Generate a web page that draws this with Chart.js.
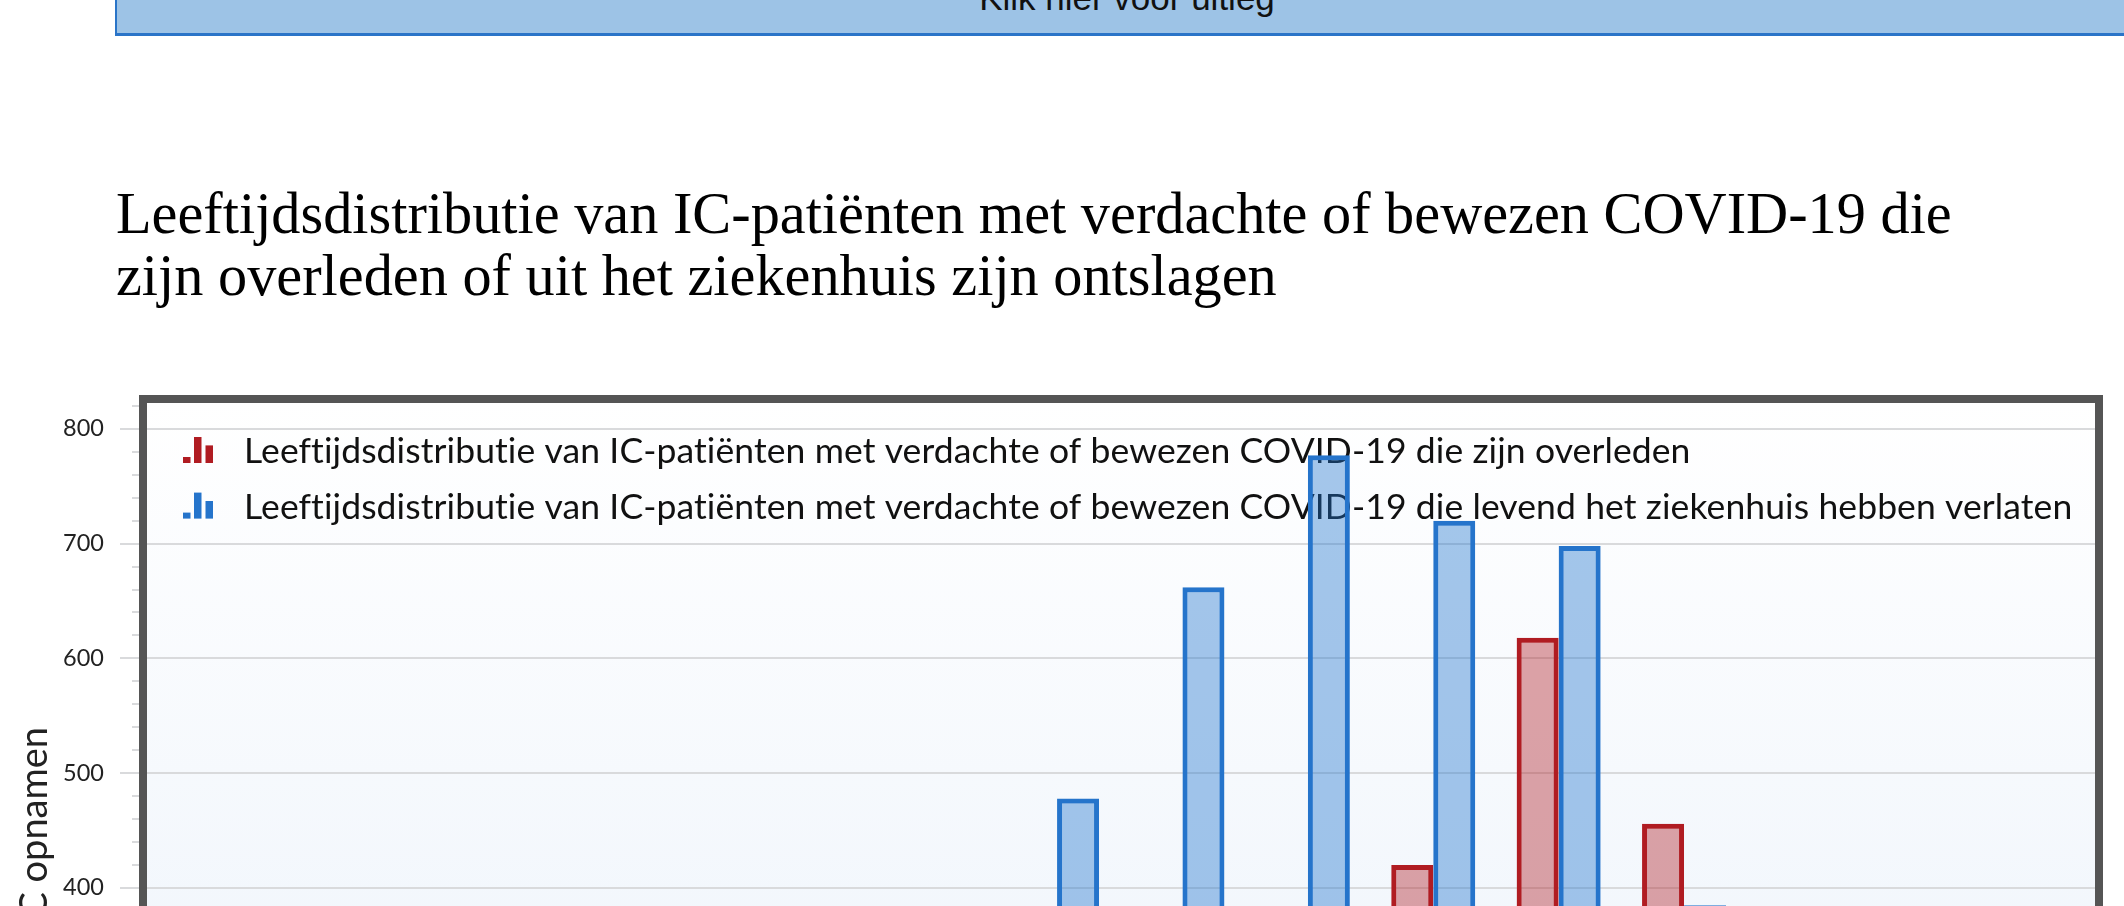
<!DOCTYPE html>
<html lang="nl">
<head>
<meta charset="utf-8">
<title>Leeftijdsdistributie IC-patiënten</title>
<script src="https://cdn.jsdelivr.net/npm/chart.js@4.4.1/dist/chart.umd.min.js"></script>
<style>
    html, body {
        margin: 0;
        padding: 0;
        width: 2124px;
        height: 906px;
        overflow: hidden;
        background: #fff;
    }
    .uitleg {
        position: absolute;
        left: 115px;
        top: -40px;
        width: 2020px;
        height: 55px;
        padding-top: 16px;
        background: #9dc3e6;
        border: 2px solid #2a74c8;
        border-bottom-width: 3px;
        font: 35px/40px 'Liberation Sans', Arial, sans-serif;
        color: #111;
        text-align: center;
    }
    h1 {
        position: absolute;
        left: 116px;
        top: 183px;
        margin: 0;
        font: 400 58.3px/62px 'Liberation Serif', 'Times New Roman', serif;
        color: #000;
        white-space: nowrap;
    }
    .chart-wrap {
        position: absolute;
        left: 0;
        top: 0;
        width: 2124px;
        height: 1427px;
    }
</style>
</head>
<body>
<div class="chart-wrap"><canvas id="leeftijdChart" width="2124" height="1427"></canvas></div>
<div class="uitleg">Klik hier voor uitleg</div>
<h1>Leeftijdsdistributie van IC-patiënten met verdachte of bewezen COVID-19 die<br>zijn overleden of uit het ziekenhuis zijn ontslagen</h1>

<script>
// Leeftijdsgroepen op de x-as (onderkant valt buiten beeld)
const ageGroups = ['<20', '20-24', '25-29', '30-34', '35-39', '40-44', '45-49', '50-54',
    '55-59', '60-64', '65-69', '70-74', '75-79', '80-84', '85-89', '>=90'];

const overleden = [3, 2, 3, 5, 8, 15, 40, 80, 140, 280, 420, 618, 456, 180, 25, 2];
const ontslagen = [40, 30, 50, 80, 120, 200, 330, 478, 662, 777, 720, 698, 385, 120, 15, 1];

const labelOverleden = 'Leeftijdsdistributie van IC-patiënten met verdachte of bewezen COVID-19 die zijn overleden';
const labelOntslagen = 'Leeftijdsdistributie van IC-patiënten met verdachte of bewezen COVID-19 die levend het ziekenhuis hebben verlaten';

// y-as: gelabelde ticks en stap van de kleine streepjes
const yTickLabels = [0, 100, 200, 300, 400, 500, 600, 700, 800];
const yMinorStep = 20;
const yAxisTitle = 'IC opnamen';

const gridColor = '#d9dadc';
const redLine = '#b01c22';
const blueLine = '#2574cb';

function minorTicks() {
    const ticks = [];
    for (let v = 0; v <= 820; v += yMinorStep) ticks.push({ value: v });
    return ticks;
}

// plot achtergrond, kader en as-titel
const plotFrame = {
    id: 'plotFrame',
    beforeDraw(chart) {
        const { ctx, chartArea: a } = chart;
        const grad = ctx.createLinearGradient(0, a.top, 0, a.bottom);
        grad.addColorStop(0, '#ffffff');
        grad.addColorStop(1, '#e8f0fa');
        ctx.save();
        ctx.fillStyle = grad;
        ctx.fillRect(a.left, a.top, a.right - a.left, a.bottom - a.top);
        ctx.restore();
    },
    afterDraw(chart) {
        const { ctx, chartArea: a } = chart;
        ctx.save();
        ctx.strokeStyle = '#555555';
        ctx.lineWidth = 8;
        ctx.strokeRect(a.left, a.top, a.right - a.left, a.bottom - a.top);

        ctx.translate(47, a.top + 328);
        ctx.rotate(-Math.PI / 2);
        ctx.font = '38px Lato, sans-serif';
        ctx.fillStyle = '#222';
        ctx.textAlign = 'right';
        ctx.textBaseline = 'alphabetic';
        ctx.fillText(yAxisTitle, 0, 0);
        ctx.restore();
    }
};

// legenda binnen het plotvlak, onder de staven
const legendInPlot = {
    id: 'legendInPlot',
    beforeDatasetsDraw(chart) {
        const { ctx, chartArea: a } = chart;
        ctx.save();
        ctx.font = '35.5px Lato, sans-serif';
        ctx.letterSpacing = '0.1px';   // ook: geen ti-ligatuur
        ctx.textBaseline = 'alphabetic';
        chart.data.datasets.forEach((ds, i) => {
            const base = a.top + 64 + i * 55.6;
            const x0 = a.left + 40;
            ctx.fillStyle = ds.borderColor;
            ctx.fillRect(x0, base - 6, 7.5, 6);
            ctx.fillRect(x0 + 11, base - 26, 7.5, 26);
            ctx.fillRect(x0 + 22.5, base - 17.6, 7.5, 17.6);
            ctx.fillStyle = '#111';
            ctx.fillText(ds.label, a.left + 101, base);
        });
        ctx.restore();
    }
};

function toPoints(values) {
    return values.map((v, i) => ({ x: i, y: v }));
}

Chart.defaults.font.family = "Lato, 'Noto Sans', sans-serif";

new Chart(document.getElementById('leeftijdChart'), {
    type: 'bar',
    data: {
        datasets: [
            {
                label: labelOverleden,
                data: toPoints(overleden),
                backgroundColor: 'rgba(176, 28, 34, 0.4)',
                borderColor: redLine,
                borderWidth: 5
            },
            {
                label: labelOntslagen,
                data: toPoints(ontslagen),
                backgroundColor: 'rgba(30, 114, 204, 0.4)',
                borderColor: blueLine,
                borderWidth: 5
            }
        ]
    },
    options: {
        responsive: false,
        animation: false,
        devicePixelRatio: 1,
        layout: { padding: { top: 399, right: 25, bottom: 20, left: 0 } },
        datasets: { bar: { categoryPercentage: 0.67, barPercentage: 1 } },
        plugins: {
            legend: { display: false },
            tooltip: { enabled: false }
        },
        scales: {
            x: {
                type: 'linear',
                min: -0.289,
                max: 15.309,
                offset: false,
                grid: { display: false, offset: false },
                border: { display: false },
                afterBuildTicks(scale) {
                    scale.ticks = ageGroups.map((_, i) => ({ value: i }));
                },
                afterFit(scale) { scale.height = 60; },
                ticks: {
                    autoSkip: false,
                    maxRotation: 0,
                    color: '#222',
                    font: { size: 22 },
                    callback: (v) => ageGroups[v]
                }
            },
            y: {
                min: 0,
                max: 826,
                border: { display: false },
                afterBuildTicks(scale) { scale.ticks = minorTicks(); },
                afterFit(scale) { scale.width = 143; },
                grid: {
                    lineWidth: 2,
                    color: (c) => yTickLabels.includes(c.tick.value) ? gridColor : 'rgba(0,0,0,0)',
                    tickLength: 23,
                    tickWidth: 2,
                    tickColor: gridColor,
                    tickBorderDash: (c) => yTickLabels.includes(c.tick.value) ? [] : [0, 12, 11, 100]
                },
                ticks: {
                    autoSkip: false,
                    padding: 16,
                    color: '#222',
                    font: { size: 23.5 },
                    callback: (v) => yTickLabels.includes(v) ? String(v) : ''
                }
            }
        }
    },
    plugins: [plotFrame, legendInPlot]
});
</script>
</body>
</html>
